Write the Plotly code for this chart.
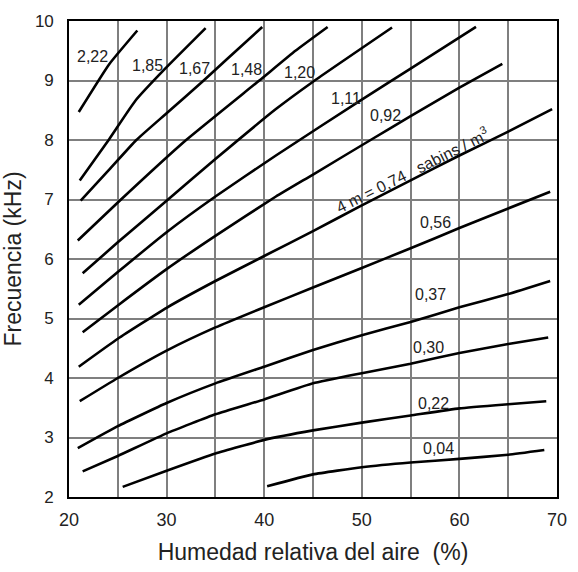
import plotly.graph_objects as go

# ---- data ----
x_ticks = [20, 25, 30, 35, 40, 45, 50, 55, 60, 65, 70]
x_ticktext = ["20", "", "30", "", "40", "", "50", "", "60", "", "70"]
y_ticks = [2, 3, 4, 5, 6, 7, 8, 9, 10]

c222_x = [21.0, 24.1, 27.0]
c222_y = [8.47, 9.27, 9.84]
c185_x = [21.1, 24.1, 26.8, 29.8, 34.0]
c185_y = [7.32, 8.01, 8.66, 9.19, 9.88]
c167_x = [21.2, 24.0, 26.9, 30.0, 33.8, 36.2, 39.8]
c167_y = [6.98, 7.48, 8.0, 8.45, 9.0, 9.36, 9.9]
c148_x = [20.9, 25.0, 32.0, 39.5, 43.2, 46.5]
c148_y = [6.31, 6.95, 8.0, 9.0, 9.5, 9.9]
c120_x = [21.4, 25, 30, 35, 41.2, 45, 53.1]
c120_y = [5.76, 6.28, 6.98, 7.68, 8.52, 8.98, 9.89]
c111_x = [21.0, 25, 30, 35, 41.2, 50, 55, 61.7]
c111_y = [5.23, 5.78, 6.45, 7.05, 7.74, 8.68, 9.2, 9.9]
c092_x = [21.4, 25, 30, 35, 41.2, 45, 50.9, 55, 60, 64.4]
c092_y = [4.77, 5.22, 5.83, 6.39, 7.05, 7.42, 8.0, 8.4, 8.88, 9.28]
c074_x = [21.0, 25, 30, 35, 40, 45, 50, 55, 60, 65, 69.5]
c074_y = [4.19, 4.66, 5.18, 5.63, 6.05, 6.47, 6.9, 7.32, 7.74, 8.14, 8.52]
c056_x = [21.1, 25, 30, 35, 40, 45, 50, 55, 60, 65, 69.3]
c056_y = [3.61, 4.0, 4.46, 4.85, 5.19, 5.52, 5.85, 6.18, 6.52, 6.85, 7.13]
c037_x = [20.9, 25, 30, 35, 40, 45, 50, 55, 60, 65, 69.3]
c037_y = [2.82, 3.19, 3.58, 3.91, 4.19, 4.47, 4.72, 4.94, 5.19, 5.41, 5.63]
c030_x = [21.4, 25, 30, 35, 40, 45, 50, 55, 60, 65, 69.1]
c030_y = [2.43, 2.69, 3.07, 3.39, 3.64, 3.91, 4.08, 4.24, 4.42, 4.57, 4.68]
c022_x = [25.5, 30, 35, 40, 45, 50, 55, 60, 65, 68.9]
c022_y = [2.17, 2.44, 2.73, 2.96, 3.12, 3.25, 3.37, 3.49, 3.56, 3.61]
c004_x = [40.3, 45, 50, 55, 60, 65, 68.7]
c004_y = [2.18, 2.38, 2.5, 2.58, 2.64, 2.71, 2.79]

curves = [
    (c222_x, c222_y), (c185_x, c185_y), (c167_x, c167_y), (c148_x, c148_y),
    (c120_x, c120_y), (c111_x, c111_y), (c092_x, c092_y), (c074_x, c074_y),
    (c056_x, c056_y), (c037_x, c037_y), (c030_x, c030_y), (c022_x, c022_y),
    (c004_x, c004_y),
]

label_text = ["2,22", "1,85", "1,67", "1,48", "1,20", "1,11", "0,92",
              "0,56", "0,37", "0,30", "0,22", "0,04"]
label_x = [22.43, 28.0, 32.9, 38.16, 43.6, 48.4, 52.4, 57.5, 57.0, 56.8, 57.3, 57.9]
label_y = [9.40, 9.26, 9.20, 9.18, 9.14, 8.70, 8.41, 6.62, 5.40, 4.52, 3.57, 2.81]

main_label = "4 m = 0,74   sabins / m<sup>3</sup>"
main_label_x = 55.15
main_label_y = 7.49
main_label_angle = -26.5

FONT = "Liberation Sans, Arial, sans-serif"

fig = go.Figure()
for cx, cy in curves:
    fig.add_trace(go.Scatter(x=cx, y=cy, mode="lines",
                             line=dict(color="black", width=2.6, shape="spline", smoothing=0.4),
                             hoverinfo="skip", showlegend=False))

annotations = []
for t, lx, ly in zip(label_text, label_x, label_y):
    annotations.append(dict(x=lx, y=ly, xref="x", yref="y", text=t, showarrow=False,
                            font=dict(family=FONT, size=16, color="#222"),
                            xanchor="center", yanchor="middle"))
annotations.append(dict(x=main_label_x, y=main_label_y, xref="x", yref="y",
                        text=main_label, showarrow=False, textangle=main_label_angle,
                        font=dict(family=FONT, size=16, color="#222"),
                        xanchor="center", yanchor="middle"))

fig.update_layout(
    width=578, height=572,
    margin=dict(l=69, r=11, t=21, b=70),
    paper_bgcolor="white", plot_bgcolor="white",
    font=dict(family=FONT, color="#222"),
    annotations=annotations,
    shapes=[dict(type="line", xref="paper", yref="y", x0=0, x1=1, y0=8, y1=8,
                 line=dict(color="black", width=1.4), layer="below")],
)
fig.update_xaxes(
    range=[20, 70], tickvals=x_ticks, ticktext=x_ticktext,
    showgrid=True, gridcolor="#7f7f7f", gridwidth=1.5,
    showline=True, linecolor="black", linewidth=1.6, mirror=True,
    zeroline=False, ticks="outside", ticklen=6, tickcolor="rgba(0,0,0,0)",
    tickfont=dict(family=FONT, size=18, color="#222"),
    title=dict(text="Humedad relativa del aire  (%)", standoff=14,
               font=dict(family=FONT, size=23, color="#222")),
)
fig.update_yaxes(
    range=[2, 10], tickvals=y_ticks,
    showgrid=True, gridcolor="#7f7f7f", gridwidth=1.5,
    showline=True, linecolor="black", linewidth=1.6, mirror=True,
    zeroline=False, ticks="outside", ticklen=10, tickcolor="rgba(0,0,0,0)",
    tickfont=dict(family=FONT, size=17, color="#222"),
    title=dict(text="Frecuencia (kHz)", standoff=8,
               font=dict(family=FONT, size=23, color="#222")),
)

fig.write_html("out.html")
